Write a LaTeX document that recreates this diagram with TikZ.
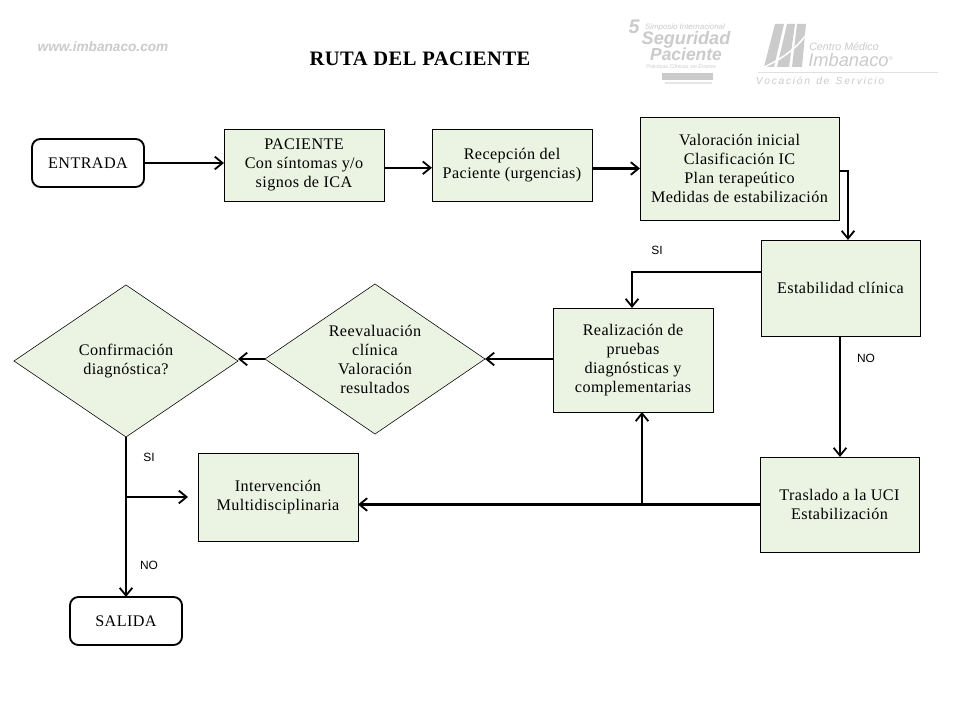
\documentclass[tikz,border=0pt]{standalone}
\usepackage{fontspec}
\setmainfont[LetterSpace=2.5]{Liberation Serif}
\setsansfont{Liberation Sans}
\usetikzlibrary{arrows.meta,shapes.geometric}
\definecolor{boxgreen}{HTML}{EBF3E2}
\definecolor{logogray}{HTML}{CBCBCB}
\tikzset{
  bodyfont/.style={font=\fontsize{11.5}{13.5}\selectfont},
  flowbox/.style={draw, fill=boxgreen, line width=0.6pt, inner sep=0pt, outer sep=0pt, align=center, bodyfont},
  flowdiamond/.style={draw=black, fill=boxgreen, diamond, aspect=1.47, line width=0.4pt, inner sep=0pt, outer sep=0pt, align=center, bodyfont},
  terminal/.style={draw, fill=white, rounded corners=6pt, line width=1.3pt, inner sep=0pt, outer sep=0pt, minimum width=2.8cm, minimum height=1.2cm, bodyfont},
  answer/.style={font=\sffamily\fontsize{8.5}{10}\selectfont},
  logotext/.style={text=logogray, inner sep=0pt},
  flow/.style={line width=1.5pt, -{Straight Barb[length=5.5pt,width=9pt,line width=1.3pt]}}
}

\begin{document}
\begin{tikzpicture}[x=0.025cm, y=-0.025cm]
      \path[use as bounding box, fill=white] (0,0) rectangle (960,720);

      % header
      \node[logotext, font=\sffamily\itshape\bfseries\fontsize{9.7}{12}\selectfont](web) at (103,47){www.imbanaco.com};
      \node[inner sep=0pt, font=\bfseries\fontsize{14.6}{16}\selectfont](title) at (420,59){RUTA DEL PACIENTE};

      % logo simposio
      \node[logotext, font=\sffamily\itshape\bfseries\fontsize{14}{14}\selectfont](cinco) at (634,27){5};
      \node[logotext, font=\sffamily\itshape\fontsize{5.6}{6}\selectfont](simposio) at (685,27){Simposio Internacional};
      \node[logotext, font=\sffamily\itshape\bfseries\fontsize{12.9}{13}\selectfont](seguridad) at (686,40){Seguridad};
      \node[logotext, font=\sffamily\itshape\bfseries\fontsize{12.4}{13}\selectfont](paciente2) at (686,54){Paciente};
      \node[logotext, font=\sffamily\itshape\fontsize{3.8}{4}\selectfont](practicas) at (681,67){Prácticas Clínicas sin Errores};
      \path[fill=logogray] (662,73) rectangle (713,80);
      \path[fill=logogray!50] (665,82) rectangle (712,84);

      % logo imbanaco
      \path[fill=logogray] (775,24) -- (784,24) -- (774,67) -- (764,67) -- cycle;
      \path[fill=logogray] (787,24) -- (795,24) -- (789,67) -- (777,67) -- cycle;
      \path[fill=logogray] (797,24) -- (806,24) -- (802,67) -- (792,67) -- cycle;
      \path[draw=white, line width=1.1pt] (762,68) .. controls (780,60) and (795,50) .. (806,35);
      \node[logotext, font=\sffamily\itshape\fontsize{7.6}{10}\selectfont](centro) at (844,47){Centro Médico};
      \node[logotext, anchor=west, font=\sffamily\itshape\fontsize{13}{16}\selectfont](imbanaco) at (808,60){Imbanaco\raisebox{4pt}{\fontsize{4}{4}\selectfont ®}};
      \path[draw=logogray!60, line width=0.5pt] (758,72) -- (938,72);
      \node[logotext, font=\sffamily\itshape\fontsize{7.3}{9}\selectfont](vocacion) at (820,81){V\,o\,c\,a\,c\,i\,ó\,n\,\, d\,e\,\, S\,e\,r\,v\,i\,c\,i\,o};

      % nodes
      \node[terminal](entrada) at (88,163){ENTRADA};
      \node[flowbox, minimum width=4cm, minimum height=1.8cm](paciente) at (304,165){PACIENTE\\Con síntomas y/o\\signos de ICA};
      \node[flowbox, minimum width=4cm, minimum height=1.8cm](recepcion) at (512,165){Recepción del\\Paciente (urgencias)};
      \node[flowbox, minimum width=4.975cm, minimum height=2.575cm](valoracion) at (739.5,168.5){Valoración inicial\\Clasificación IC\\Plan terapeútico\\Medidas de estabilización};
      \node[flowbox, minimum width=3.975cm, minimum height=2.4cm](estabilidad) at (840.5,288){Estabilidad clínica};
      \node[flowbox, minimum width=4cm, minimum height=2.6cm](realizacion) at (633,360){Realización de\\pruebas\\diagnósticas y\\complementarias};
      \node[flowbox, minimum width=3.975cm, minimum height=2.375cm](traslado) at (839.5,504.5){Traslado a la UCI\\Estabilización};
      \node[flowbox, minimum width=4cm, minimum height=2.2cm](intervencion) at (278,497){Intervención\\Multidisciplinaria};
      \node[terminal](salida) at (126,621){SALIDA};
      \node[flowdiamond, minimum width=5.5cm, minimum height=3.75cm](reevaluacion) at (375,359){Reevaluación\\clínica\\Valoración\\resultados};
      \node[flowdiamond, minimum width=5.6cm, minimum height=3.8cm](confirmacion) at (126,361){Confirmación\\diagnóstica?};

      % connectors
      \coordinate (split1) at (642,504);
      \coordinate (split2) at (126,497);
      \coordinate (gap) at (188,497);

      \draw[flow] (entrada.east) -- (paciente.west |- entrada.east);
      \draw[flow] ([yshift=-2pt]paciente.east) -- ([yshift=-2pt]recepcion.west);
      \draw[flow] (recepcion.east |- valoracion.west) -- (valoracion.west);
      \draw[flow] ([yshift=-2pt]valoracion.east) -| (848,240);
      \draw[flow] ([yshift=11.5pt]estabilidad.west) -| (632,308);
      \draw[flow] (840,336) -- (840,457);
      \draw[flow] (realizacion.west |- reevaluacion.east) -- (reevaluacion.east);
      \draw[flow] (reevaluacion.west) -- (reevaluacion.west -| confirmacion.east);
      \draw[flow] (traslado.west) -- (intervencion.east |- traslado.west);
      \draw[flow] (split1) -- (642,412);
      \draw[flow] (confirmacion.south) -- (salida.north);
      \draw[flow, line width=1.2pt] (split2) -- (gap);

      % labels
      \node[answer](si1) at (657,250){SI};
      \node[answer](no1) at (866,358){NO};
      \node[answer](si2) at (149,457){SI};
      \node[answer](no2) at (149,565){NO};
    \end{tikzpicture}
\end{document}
